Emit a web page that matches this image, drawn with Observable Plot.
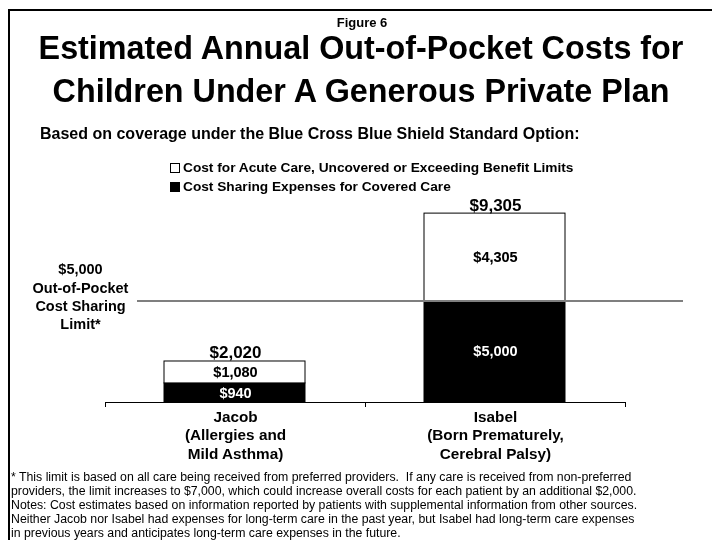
<!DOCTYPE html>
<html><head><meta charset="utf-8">
<script src="https://cdn.jsdelivr.net/npm/d3@7"></script>
<script src="https://cdn.jsdelivr.net/npm/@observablehq/plot@0.6"></script>
<style>
body{margin:0;background:#fff;font-family:"Liberation Sans",Arial,sans-serif;color:#000}
#wrap{position:relative;width:712px;height:540px;overflow:hidden;background:#fff}
.abs{position:absolute;white-space:nowrap}
#border{position:absolute;left:8px;top:9px;width:800px;height:600px;border-top:2px solid #000;border-left:2px solid #000}
#fig{left:0;width:724px;text-align:center;top:16px;font-size:13px;font-weight:bold;line-height:14px}
#title{left:0;width:722px;text-align:center;top:27px;font-size:32.3px;font-weight:bold;line-height:43px}
#sub{left:40px;top:125px;font-size:16px;font-weight:bold;line-height:18px}
#legend{left:170px;top:158px;font-size:13.7px;font-weight:bold;line-height:19px}
.item{display:flex;align-items:center}
.sw{width:8px;height:8px;border:1px solid #000;margin-right:3px;display:inline-block}
#chart{position:absolute;left:0;top:195px}
#notes{left:11px;top:470px;font-size:12.3px;line-height:14px}
</style>
</head><body>
<div id="wrap">
  <div id="border"></div>
  <div class="abs" id="fig">Figure 6</div>
  <div class="abs" id="title">Estimated Annual Out-of-Pocket Costs for<br>Children Under A Generous Private Plan</div>
  <div class="abs" id="sub">Based on coverage under the Blue Cross Blue Shield Standard Option:</div>
  <div class="abs" id="legend"></div>
  <div id="chart"></div>
  <div class="abs" id="notes"></div>
</div>
<script>
// ---- data ----
const categories = ["Jacob", "Isabel"];
const categoryLabels = ["Jacob\n(Allergies and\nMild Asthma)", "Isabel\n(Born Prematurely,\nCerebral Palsy)"];
const seriesNames = ["Cost Sharing Expenses for Covered Care", "Cost for Acute Care, Uncovered or Exceeding Benefit Limits"];
const seriesColors = ["#000000", "#ffffff"];
const costSharing = [940, 5000];
const uncovered = [1080, 4305];
const totals = [2020, 9305];
const limitValue = 5000;
const limitLabel = "$5,000\nOut-of-Pocket\nCost Sharing\nLimit*";
const yDomain = [0, 10000];
const notes = [
  "* This limit is based on all care being received from preferred providers.  If any care is received from non-preferred",
  "providers, the limit increases to $7,000, which could increase overall costs for each patient by an additional $2,000.",
  "Notes: Cost estimates based on information reported by patients with supplemental information from other sources.",
  "Neither Jacob nor Isabel had expenses for long-term care in the past year, but Isabel had long-term care expenses",
  "in previous years and anticipates long-term care expenses in the future."
];

// ---- tables ----
const rows = [];
categories.forEach((c, i) => {
  rows.push({name: c, series: seriesNames[0], value: costSharing[i]});
  rows.push({name: c, series: seriesNames[1], value: uncovered[i]});
});
const totalRows = categories.map((c, i) => ({name: c, total: totals[i]}));
const labelOf = Object.fromEntries(categories.map((c, i) => [c, categoryLabels[i]]));
const fmt = d3.format("$,");

// legend (top item = top segment)
const legend = document.getElementById("legend");
[1, 0].forEach(i => {
  const it = document.createElement("div");
  it.className = "item";
  const sw = document.createElement("span");
  sw.className = "sw";
  sw.style.background = seriesColors[i];
  it.appendChild(sw);
  it.appendChild(document.createTextNode(seriesNames[i]));
  legend.appendChild(it);
});
document.getElementById("notes").innerHTML = notes.map(s => s.replace(/  /g, " &nbsp;")).join("<br>");

const bold = {fontWeight: "bold"};
const chart = Plot.plot({
  width: 712,
  height: 290,
  marginTop: 4,
  marginBottom: 83,
  marginLeft: 105,
  marginRight: 87,
  x: {domain: categories, padding: 0, axis: null},
  y: {domain: yDomain, axis: null},
  color: {domain: seriesNames, range: seriesColors},
  style: {fontFamily: "'Liberation Sans', Arial, sans-serif", overflow: "visible", background: "transparent"},
  marks: [
    Plot.barY(rows, {x: "name", y: "value", fill: "series", order: seriesNames, stroke: "#000", strokeWidth: 1, insetLeft: 59, insetRight: 60}),
    Plot.ruleY([limitValue], {stroke: "#7f7f7f", strokeWidth: 2, insetLeft: 32, insetRight: -58}),
    Plot.ruleY([0], {stroke: "#000", strokeWidth: 1}),
    Plot.ruleX(categories, {x: d => d, y1: 0, y2: 0, insetBottom: -5, dx: -130, stroke: "#000"}),
    Plot.ruleX(categories.slice(-1), {x: d => d, y1: 0, y2: 0, insetBottom: -5, dx: 130, stroke: "#000"}),
    Plot.text(rows, Plot.stackY({x: "name", y: "value", z: "series", order: seriesNames, text: d => fmt(d.value), fill: "white", mixBlendMode: "difference", fontSize: 14.5, ...bold})),
    Plot.text(totalRows, {x: "name", y: "total", text: d => fmt(d.total), lineAnchor: "bottom", dy: -3, fontSize: 17, ...bold}),
    Plot.text(categories, {x: d => d, y: 0, text: d => labelOf[d], lineAnchor: "top", dy: 6, fontSize: 15.3, lineHeight: 1.21, ...bold}),
    Plot.text([limitValue], {y: d => d, frameAnchor: "left", text: () => limitLabel, dx: -25, dy: -5, textAnchor: "middle", lineAnchor: "middle", lineHeight: 1.26, fontSize: 14.5, ...bold})
  ]
});
document.getElementById("chart").appendChild(chart);
</script>
</body></html>
